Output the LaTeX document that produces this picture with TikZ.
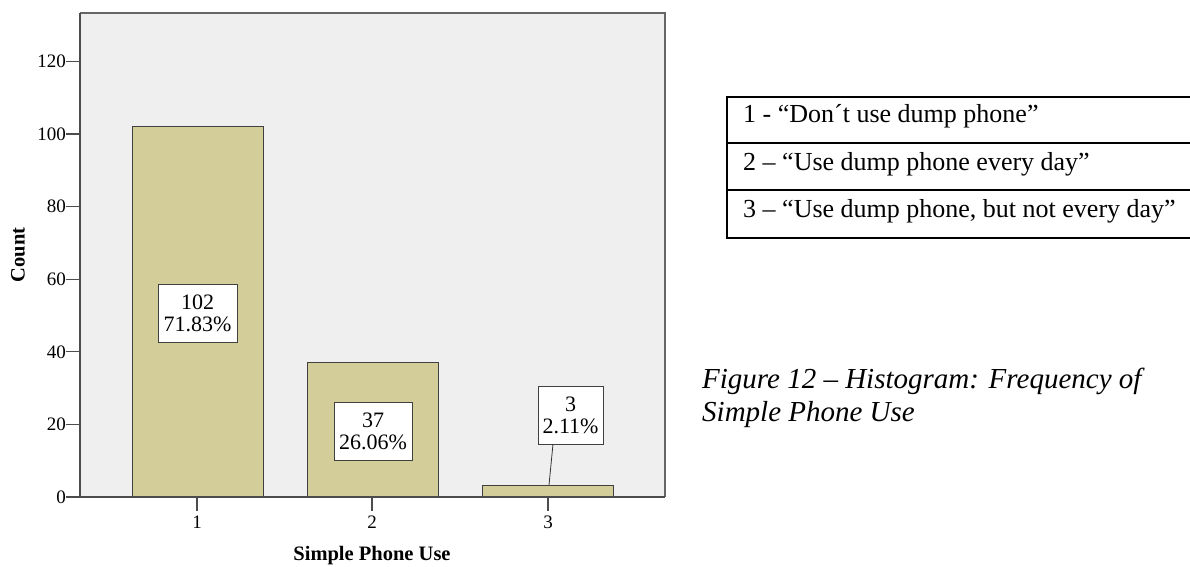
\documentclass[tikz,border=0pt]{standalone}
\usepackage{fontspec}
\setmainfont{Liberation Serif}
\begin{document}
\begin{tikzpicture}[x=1pt,y=-1pt,
  framecol/.style={draw=black!70, line width=1.2pt},
  barstyle/.style={fill=barfill, draw=black!75, line width=1pt},
  ticklbl/.style={font=\fontsize{19}{19}\selectfont, inner sep=0pt},
  vallbl/.style={draw=black!75, fill=white, line width=1pt, align=center, inner sep=1pt,
     font=\fontsize{22}{22}\selectfont},
  legtxt/.style={anchor=base west, inner sep=0pt, font=\fontsize{26}{26}\selectfont},
  capt/.style={anchor=base west, inner sep=0pt, font=\fontsize{29}{29}\selectfont\itshape}]
\definecolor{barfill}{RGB}{211,206,153}
\definecolor{plotbg}{RGB}{239,239,239}
\useasboundingbox (0,0) rectangle (1190,566);
\fill[white] (0,0) rectangle (1190,566);
% plot area
\fill[plotbg] (80,13) rectangle (665,497);
\draw[framecol, draw=black!60] (80,13) -- (665,13) -- (665,497);
% bars
\draw[barstyle] (132,497) rectangle (263,126);
\draw[barstyle] (307,497) rectangle (438,362);
\draw[barstyle] (482,497) rectangle (613,485);
% axes
\draw[framecol] (80,13) -- (80,497) -- (665,497);
% y ticks
\foreach \v in {0,20,...,120}{
  \pgfmathsetmacro{\yy}{497-\v*3.63}
  \draw[framecol] (66,\yy) -- (80,\yy);
  \node[ticklbl, anchor=east] (yt\v) at (66,\yy) {\v};
}
% x ticks
\foreach \i/\xx in {1/197,2/372,3/548}{
  \draw[framecol] (\xx,497) -- (\xx,511);
  \node[ticklbl, anchor=north] (xt\i) at (\xx,516) {\i};
}
% axis titles
\node[font=\fontsize{20.5}{20.5}\selectfont\bfseries, rotate=90] (ytitle) at (18,255) {Count};
\node[font=\fontsize{20.5}{20.5}\selectfont\bfseries] (xtitle) at (372,556) {Simple Phone Use};
% value labels
\node[vallbl, minimum width=79pt, minimum height=58pt] (l1) at (197.5,313) {102\\71.83\%};
\node[vallbl, minimum width=78pt, minimum height=58pt] (l2) at (373,431) {37\\26.06\%};
\node[vallbl, minimum width=65pt, minimum height=58pt] (l3) at (570.5,415) {3\\2.11\%};
\coordinate (c3a) at (553,444);
\coordinate (c3b) at (549,485);
\draw[black!80, line width=0.8pt] (c3a) -- (c3b);
% legend table
\draw[line width=1.5pt] (1195,97) -- (727,97) -- (727,238) -- (1195,238);
\draw[line width=1.5pt] (727,143) -- (1195,143);
\draw[line width=1.5pt] (727,190) -- (1195,190);
\node[legtxt] (r1) at (743,122) {1 - “Don´t use dump phone”};
\node[legtxt] (r2) at (743,170) {2 – “Use dump phone every day”};
\node[legtxt] (r3) at (743,217) {3 – “Use dump phone, but not every day”};
% caption
\node[capt] (cap1) at (702,388) {Figure 12 – Histogram: Frequency of};
\node[capt] (cap2) at (702,421) {Simple Phone Use};
\end{tikzpicture}
\end{document}
